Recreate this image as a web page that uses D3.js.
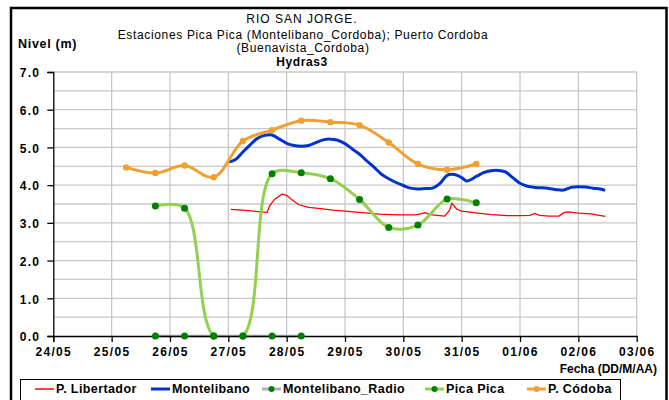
<!DOCTYPE html>
<html>
<head>
<meta charset="utf-8">
<script src="https://cdn.jsdelivr.net/npm/d3@7"></script>
<style>
  body { margin: 0; background: #fff; }
  svg { display: block; font-family: "Liberation Sans", Arial, sans-serif; }
  .tick text { font-weight: bold; font-size: 12px; letter-spacing: 1.3px; fill: #000; }
</style>
</head>
<body>
<svg id="chart" width="669" height="400"></svg>
<script>
// Axis definitions
const xStart = "24/05 00:00", xEnd = "03/06 00:00";
const yTicks = [0, 1, 2, 3, 4, 5, 6, 7];

// P. Libertador (near-hourly readings)
const libTimes = ["27/05 01:00","27/05 07:00","27/05 12:00","27/05 16:00","27/05 17:00","27/05 19:00","27/05 22:00",
  "28/05 00:00","28/05 02:00","28/05 05:00","28/05 09:00","28/05 14:00","28/05 19:00",
  "29/05 00:00","29/05 07:00","29/05 14:00","29/05 22:00",
  "30/05 05:00","30/05 07:00","30/05 09:00","30/05 11:00","30/05 17:00","30/05 19:00","30/05 20:00","30/05 22:00",
  "31/05 00:00","31/05 05:00","31/05 12:00","31/05 19:00",
  "01/06 00:00","01/06 04:00","01/06 06:00","01/06 08:00","01/06 12:00","01/06 16:00","01/06 18:00","01/06 20:00",
  "02/06 00:00","02/06 05:00","02/06 11:00"];
const libValues = [3.36,3.33,3.30,3.28,3.45,3.62,3.76,
  3.73,3.62,3.48,3.41,3.38,3.34,
  3.31,3.27,3.23,3.21,
  3.21,3.24,3.27,3.22,3.18,3.33,3.52,3.36,
  3.31,3.27,3.22,3.19,
  3.19,3.20,3.25,3.20,3.18,3.18,3.27,3.29,
  3.26,3.24,3.17];

// Montelibano (3-hourly)
const monTimes = ["27/05 00:00","27/05 03:00","27/05 06:00","27/05 09:00","27/05 12:00","27/05 15:00","27/05 18:00","27/05 21:00",
  "28/05 00:00","28/05 03:00","28/05 06:00","28/05 09:00","28/05 12:00","28/05 15:00","28/05 18:00","28/05 21:00",
  "29/05 00:00","29/05 03:00","29/05 06:00","29/05 09:00","29/05 12:00","29/05 15:00","29/05 18:00","29/05 21:00",
  "30/05 00:00","30/05 03:00","30/05 06:00","30/05 09:00","30/05 12:00","30/05 15:00","30/05 18:00","30/05 21:00",
  "31/05 00:00","31/05 02:00","31/05 06:00","31/05 09:00","31/05 12:00","31/05 15:00","31/05 18:00","31/05 21:00",
  "01/06 00:00","01/06 03:00","01/06 06:00","01/06 09:00","01/06 12:00","01/06 15:00","01/06 18:00","01/06 21:00",
  "02/06 00:00","02/06 03:00","02/06 06:00","02/06 09:00","02/06 11:00"];
const monValues = [4.61,4.68,4.88,5.07,5.24,5.32,5.33,5.22,
  5.11,5.05,5.03,5.05,5.13,5.20,5.22,5.19,
  5.10,4.96,4.82,4.64,4.47,4.29,4.17,4.07,
  3.99,3.92,3.90,3.91,3.92,4.04,4.26,4.28,
  4.20,4.11,4.23,4.33,4.38,4.39,4.35,4.20,
  4.05,3.97,3.94,3.93,3.91,3.88,3.87,3.94,
  3.96,3.95,3.92,3.90,3.86];

// Montelibano_Radio (twice daily)
const radioTimes = ["25/05 18:00","26/05 06:00","26/05 18:00","27/05 06:00","27/05 18:00","28/05 06:00"];
const radioValues = [0, 0, 0, 0, 0, 0];

// Pica Pica (twice daily)
const picaTimes = ["25/05 18:00","26/05 06:00","26/05 18:00","27/05 06:00","27/05 18:00","28/05 06:00",
  "28/05 18:00","29/05 06:00","29/05 18:00","30/05 06:00","30/05 18:00","31/05 06:00"];
const picaValues = [3.45, 3.39, 0, 0, 4.30, 4.33, 4.17, 3.62, 2.88, 2.94, 3.63, 3.53];

// P. Códoba (twice daily)
const cordTimes = ["25/05 06:00","25/05 18:00","26/05 06:00","26/05 18:00","27/05 06:00","27/05 18:00","28/05 06:00",
  "28/05 18:00","29/05 06:00","29/05 18:00","30/05 06:00","30/05 18:00","31/05 06:00"];
const cordValues = [4.47, 4.32, 4.52, 4.21, 5.17, 5.46, 5.71, 5.67, 5.59, 5.13, 4.56, 4.41, 4.56];

const parse = d3.timeParse("%d/%m %H:%M");
const pts = (times, values) => times.map((t, i) => ({ date: parse(t), value: values[i] }));

const svg = d3.select("#chart");
const x = d3.scaleTime().domain([parse(xStart), parse(xEnd)]).range([53.3, 636.7]);
const y = d3.scaleLinear().domain([0, 7]).range([336, 72]);

// Plot-area clip so smoothed curves never dip below the axis
svg.append("defs").append("clipPath").attr("id", "plot-clip")
  .append("rect").attr("x", x.range()[0]).attr("y", y(7))
  .attr("width", x.range()[1] - x.range()[0]).attr("height", y(0) - y(7));

// Outer frame
svg.append("rect").attr("x", 11).attr("y", 8).attr("width", 655.5).attr("height", 400)
  .attr("fill", "none").attr("stroke", "#000").attr("stroke-width", 2.5);

// Titles
const title = svg.append("g").attr("text-anchor", "middle").attr("font-size", 12).attr("fill", "#000");
title.append("text").attr("x", 302).attr("y", 23).attr("letter-spacing", 1).text("RIO SAN JORGE.");
title.append("text").attr("x", 303).attr("y", 39).attr("letter-spacing", 0.65).text("Estaciones Pica Pica (Montelibano_Cordoba); Puerto Cordoba");
title.append("text").attr("x", 303).attr("y", 52).attr("letter-spacing", 0.65).text("(Buenavista_Cordoba)");
title.append("text").attr("x", 302).attr("y", 65.5).attr("font-weight", "bold").attr("letter-spacing", 0.6).text("Hydras3");
svg.append("text").attr("x", 18).attr("y", 48).attr("font-size", 12.5).attr("letter-spacing", 0.7)
  .attr("font-weight", "bold").text("Nivel (m)");

// Gridlines
const grid = svg.append("g").attr("stroke", "#c8c8c8").attr("stroke-width", 1.3);
grid.selectAll("line.h").data(d3.range(1, 15).map(i => i * 0.5)).join("line")
  .attr("x1", x.range()[0]).attr("x2", x.range()[1])
  .attr("y1", d => y(d)).attr("y2", d => y(d));
grid.selectAll("line.v").data(d3.timeDay.range(d3.timeDay.offset(parse(xStart), 1), d3.timeDay.offset(parse(xEnd), 1))).join("line")
  .attr("x1", d => x(d)).attr("x2", d => x(d))
  .attr("y1", y(0)).attr("y2", y(7));

const line = (curve) => d3.line().x(d => x(d.date)).y(d => y(d.value)).curve(curve);
const smooth = d3.curveCatmullRom.alpha(0.5);

// Montelibano_Radio line along zero
svg.append("path").datum(pts(radioTimes, radioValues)).attr("d", line(d3.curveLinear))
  .attr("fill", "none").attr("stroke", "#b0b0b0").attr("stroke-width", 2.5);

// Series (clipped to plot area)
const series = svg.append("g").attr("clip-path", "url(#plot-clip)");
series.append("path").datum(pts(libTimes, libValues)).attr("d", line(d3.curveLinear))
  .attr("fill", "none").attr("stroke", "#ff0000").attr("stroke-width", 1.3);
series.append("path").datum(pts(monTimes, monValues)).attr("d", line(smooth))
  .attr("fill", "none").attr("stroke", "#0033cc").attr("stroke-width", 3);
series.append("path").datum(pts(cordTimes, cordValues)).attr("d", line(smooth))
  .attr("fill", "none").attr("stroke", "#f0a030").attr("stroke-width", 3);
series.append("path").datum(pts(picaTimes, picaValues)).attr("d", line(smooth))
  .attr("fill", "none").attr("stroke", "#92d050").attr("stroke-width", 3);

// Axes
const yAxis = svg.append("g").attr("transform", `translate(${x.range()[0]},0)`)
  .call(d3.axisLeft(y).tickValues(yTicks).tickSize(6).tickPadding(7).tickFormat(d3.format(".1f")));
const xAxis = svg.append("g").attr("transform", `translate(0,${y(0)})`)
  .call(d3.axisBottom(x).ticks(d3.timeDay.every(1)).tickSize(6).tickPadding(5).tickFormat(d3.timeFormat("%d/%m")));
[yAxis, xAxis].forEach(a => {
  a.select(".domain").attr("stroke", "#000").attr("stroke-width", 1.3);
  a.selectAll(".tick line").attr("stroke", "#000").attr("stroke-width", 1.3);
});
xAxis.select(".tick:last-of-type line").remove();
yAxis.selectAll(".tick text").attr("dy", "0.4em");

svg.append("text").attr("x", 657).attr("y", 373).attr("text-anchor", "end")
  .attr("font-size", 12).attr("font-weight", "bold").text("Fecha (DD/M/AA)");

// Markers
svg.append("g").selectAll("circle").data(pts(cordTimes, cordValues)).join("circle")
  .attr("cx", d => x(d.date)).attr("cy", d => y(d.value)).attr("r", 3.2).attr("fill", "#f0a030");
svg.append("g").selectAll("circle").data(pts(picaTimes, picaValues).concat(pts(radioTimes, radioValues))).join("circle")
  .attr("cx", d => x(d.date)).attr("cy", d => y(d.value)).attr("r", 3.5).attr("fill", "#008000");

// Legend
const legend = svg.append("g");
legend.append("rect").attr("x", 20.5).attr("y", 379.5).attr("width", 600).attr("height", 30)
  .attr("fill", "#fff").attr("stroke", "#000").attr("stroke-width", 1);
const legendItems = [
  { name: "P. Libertador", color: "#ff0000", width: 1.5, dot: null, x: 35 },
  { name: "Montelibano", color: "#0033cc", width: 3, dot: null, x: 151 },
  { name: "Montelibano_Radio", color: "#b0b0b0", width: 3, dot: "#008000", x: 262 },
  { name: "Pica Pica", color: "#92d050", width: 3, dot: "#008000", x: 425 },
  { name: "P. Códoba", color: "#f0a030", width: 3, dot: "#f0a030", x: 527 }
];
legendItems.forEach(it => {
  const g = legend.append("g").attr("transform", `translate(${it.x},389)`);
  g.append("line").attr("x1", 0).attr("x2", 19).attr("stroke", it.color).attr("stroke-width", it.width);
  if (it.dot) g.append("circle").attr("cx", 9.5).attr("r", 3).attr("fill", it.dot);
  g.append("text").attr("x", 21).attr("dy", "0.35em").attr("font-size", 12.5).attr("letter-spacing", 0.4)
    .attr("font-weight", "bold").text(it.name);
});
</script>
</body>
</html>
